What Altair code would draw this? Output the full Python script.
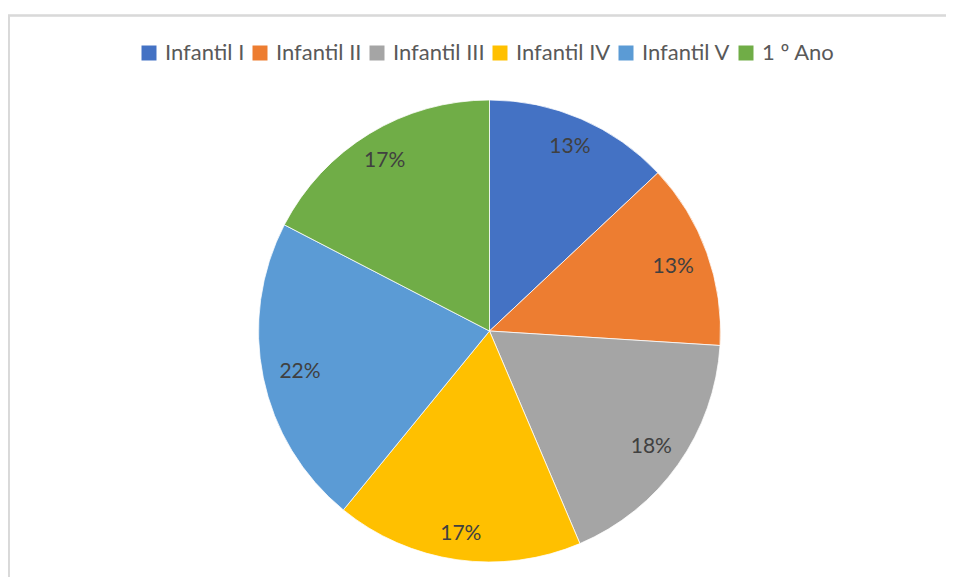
import altair as alt
import pandas as pd

categories = ["Infantil I", "Infantil II", "Infantil III", "Infantil IV", "Infantil V", "1 º Ano"]
values = [13.0, 13.0, 17.6, 17.3, 21.7, 17.4]
labels = ["13%", "13%", "18%", "17%", "22%", "17%"]
colors = ["#4472C4", "#ED7D31", "#A5A5A5", "#FFC000", "#5B9BD5", "#70AD47"]

df = pd.DataFrame({
    "cat": categories,
    "value": values,
    "label": labels,
    "idx": list(range(len(categories))),
})

W, H = 938, 569
CX, CY = 481.5, 323
R = 231
FONT = "Lato"

pie = alt.Chart(df).mark_arc(outerRadius=R, stroke="#ffffff", strokeWidth=0.75).encode(
    theta=alt.Theta("value:Q", stack=True),
    order=alt.Order("idx:Q"),
    x=alt.value(CX),
    y=alt.value(CY),
    color=alt.Color(
        "cat:N",
        scale=alt.Scale(domain=categories, range=colors),
        sort=categories,
        legend=alt.Legend(
            title=None,
            orient="none",
            legendX=130,
            legendY=34,
            direction="horizontal",
            symbolType="square",
            symbolSize=225,
            symbolStrokeWidth=0,
            labelFont=FONT,
            labelFontSize=22,
            labelColor="#595959",
            labelOffset=5,
            columnPadding=4,
            padding=0,
        ),
    ),
)

# labels sit inside each slice, pulled in more at the sides (like Excel "best fit")
text = (
    alt.Chart(df)
    .transform_window(cum="sum(value)", sort=[alt.SortField("idx")])
    .transform_joinaggregate(total="sum(value)")
    .transform_calculate(mid="2*PI*(datum.cum - datum.value/2)/datum.total")
    .transform_calculate(lr="191 + 12.5*abs(cos(datum.mid))")
    .transform_calculate(
        px=f"{CX} + datum.lr*sin(datum.mid)",
        py=f"{CY + 2} - datum.lr*cos(datum.mid)",
    )
    .mark_text(font=FONT, fontSize=21, color="#404040", align="center", baseline="middle")
    .encode(
        x=alt.X("px:Q", scale=None, axis=None),
        y=alt.Y("py:Q", scale=None, axis=None),
        text=alt.Text("label:N"),
    )
)

border_top = alt.Chart(df).mark_rule(color="#D9D9D9", strokeWidth=1.5).encode(
    x=alt.value(0), x2=alt.value(W), y=alt.value(7.5)
)
border_left = alt.Chart(df).mark_rule(color="#D9D9D9", strokeWidth=1.5).encode(
    x=alt.value(0.75), y=alt.value(7), y2=alt.value(H)
)

chart = alt.layer(border_top, border_left, pie, text).properties(
    width=W,
    height=H,
    autosize=alt.AutoSizeParams(type="none"),
    padding=0,
    background="#ffffff",
).configure_view(stroke=None)

chart.save("out.html", embed_options={"renderer": "svg", "actions": False})
